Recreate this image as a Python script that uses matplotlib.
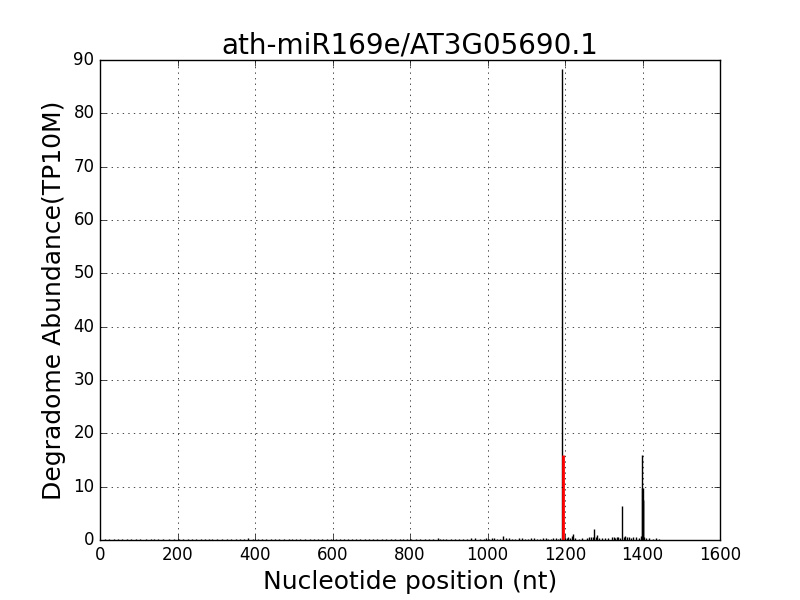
import matplotlib
matplotlib.use("Agg")
import matplotlib.pyplot as plt

# degradome tags along the transcript (position in nt, abundance TP10M)
positions = [12, 24, 35, 47, 58, 70, 80, 93, 104, 118, 131, 140, 150, 163, 177,
             190, 203, 214, 226, 237, 248, 260, 271, 280, 290, 303, 316, 327,
             338, 350, 362, 371, 381, 396, 407, 418, 429, 440, 452, 463, 475,
             487, 496, 505, 517, 530, 541, 552, 563, 574, 585, 596, 608, 620,
             630, 641, 650, 660, 672, 684, 694, 705, 716, 727, 738, 750, 761,
             773, 782, 792, 803, 815, 826, 838, 849, 860, 872, 878, 884, 894,
             905, 916, 926, 937, 948, 958, 969, 980, 990, 997, 1004, 1011, 1018,
             1025, 1031, 1040, 1048, 1056, 1064, 1072, 1080, 1088, 1096, 1104,
             1112, 1120, 1128, 1136, 1143, 1150, 1157, 1163, 1170, 1176, 1181,
             1186, 1193,
             1200, 1205, 1208, 1212, 1218, 1221, 1226, 1235, 1245, 1256, 1262,
             1268, 1272, 1276, 1279, 1282, 1288, 1295, 1303, 1312, 1320, 1326,
             1330, 1334, 1338, 1342, 1348, 1352, 1356, 1360, 1364, 1370, 1376,
             1383, 1390, 1395, 1398, 1399, 1400, 1401, 1402, 1405, 1410, 1418,
             1426, 1434, 1442]
abundance = [0.1, 0.2, 0.15, 0.1, 0.1, 0.2, 0.2, 0.1, 0.1, 0.2, 0.15, 0.2, 0.1,
             0.2, 0.2, 0.1, 0.15, 0.2, 0.1, 0.2, 0.2, 0.15, 0.15, 0.2, 0.1,
             0.2, 0.2, 0.1, 0.1, 0.2, 0.15, 0.2, 0.35, 0.2, 0.15, 0.15, 0.2,
             0.2, 0.1, 0.1, 0.2, 0.15, 0.2, 0.2, 0.15, 0.1, 0.2, 0.15, 0.2,
             0.2, 0.15, 0.1, 0.2, 0.15, 0.2, 0.2, 0.15, 0.1, 0.2, 0.25, 0.2,
             0.15, 0.2, 0.2, 0.15, 0.1, 0.2, 0.2, 0.25, 0.15, 0.2, 0.2, 0.25,
             0.25, 0.2, 0.15, 0.3, 0.25, 0.2, 0.2, 0.25, 0.2, 0.2, 0.25, 0.25,
             0.3, 0.3, 0.2, 0.2, 0.3, 0.25, 0.3, 0.3, 0.25, 0.2, 0.7, 0.3,
             0.3, 0.25, 0.25, 0.3, 0.3, 0.25, 0.2, 0.3, 0.3, 0.25, 0.25, 0.3,
             0.3, 0.25, 0.2, 0.3, 0.3, 0.25, 0.3, 88.3,
             0.3, 0.4, 0.5, 0.4, 0.8, 1.1, 0.3, 0.2, 0.3, 0.4, 0.5,
             0.6, 0.5, 2.0, 0.6, 0.9, 0.4, 0.3, 0.4, 0.3, 0.5, 0.5,
             0.4, 0.6, 0.5, 0.3, 6.4, 0.5, 0.7, 0.6, 0.5, 0.4, 0.5,
             0.6, 0.4, 0.8, 16.0, 9.7, 9.7, 7.5, 7.5, 0.6, 0.4, 0.3,
             0.2, 0.3, 0.2]

# predicted cleavage site of the miRNA
target_pos = [1194]
target_abundance = [16.0]

plt.style.use("classic")
fig = plt.figure(figsize=(8, 6), dpi=100)
ax = fig.add_subplot(111)

ax.vlines(positions, 0, abundance, colors="black", linewidth=1)
ax.vlines(target_pos, 0, target_abundance, colors="red", linewidth=2)

ax.set_xlim(0, 1600)
ax.set_ylim(0, 90)
ax.grid(True)
ax.set_title("ath-miR169e/AT3G05690.1", fontsize=20)
ax.set_xlabel("Nucleotide position (nt)", fontsize=18)
ax.set_ylabel("Degradome Abundance(TP10M)", fontsize=18)

fig.savefig("out.png", dpi=100, facecolor="white")
